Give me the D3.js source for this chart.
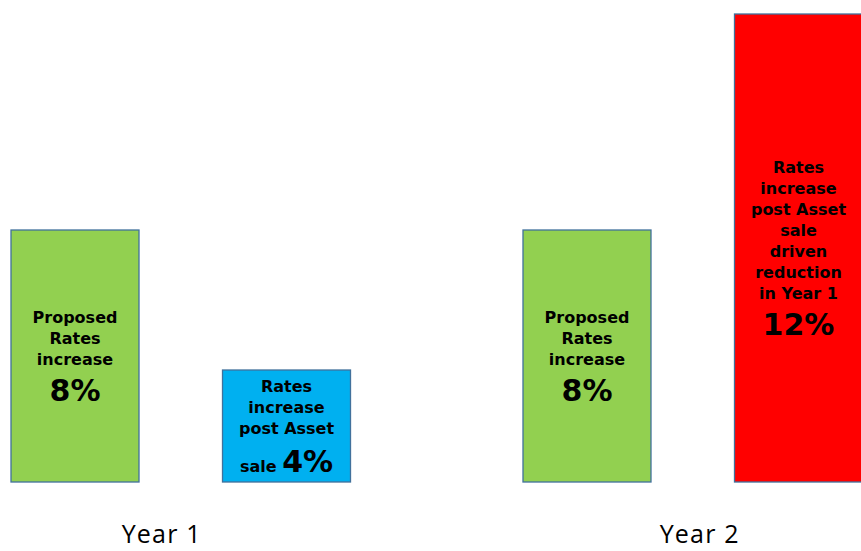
<!DOCTYPE html>
<html><head><meta charset="utf-8">
<script src="https://cdn.jsdelivr.net/npm/d3@7"></script>
<style>html,body{margin:0;padding:0;background:#fff;}svg{display:block;}</style>
</head><body>
<svg id="chart" width="861" height="551"></svg>
<script>
const years = ["Year 1", "Year 2"];
const seriesKeys = ["proposed", "post"];
const proposedValues = [8, 8];
const postValues = [4, 12];
const colors = { "Year 1|proposed": "#92D050", "Year 1|post": "#00B0F0", "Year 2|proposed": "#92D050", "Year 2|post": "#FF0000" };
const labelLines = {
  "Year 1|proposed": ["Proposed", "Rates", "increase"],
  "Year 1|post": ["Rates", "increase", "post Asset", "sale"],
  "Year 2|proposed": ["Proposed", "Rates", "increase"],
  "Year 2|post": ["Rates", "increase", "post Asset", "sale", "driven", "reduction", "in Year 1"]
};

const bars = [];
years.forEach((y, i) => {
  bars.push({ year: y, key: "proposed", value: proposedValues[i] });
  bars.push({ year: y, key: "post", value: postValues[i] });
});

const svg = d3.select("#chart");
const x0 = d3.scaleBand().domain(years).range([11, 862.5]).paddingInner(0.3369).paddingOuter(0);
const x1 = d3.scaleBand().domain(seriesKeys).range([0, x0.bandwidth()]).paddingInner(0.3948).paddingOuter(0);
// Non-proportional heights as in the original graphic
const y = d3.scaleLinear().domain([0, 4, 8, 12]).range([482, 370, 230, 14]);

const g = svg.append("g");
const bar = g.selectAll("g.bar").data(bars).join("g").attr("class", "bar");
bar.append("rect")
  .attr("x", d => x0(d.year) + x1(d.key))
  .attr("y", d => y(d.value))
  .attr("width", x1.bandwidth())
  .attr("height", d => y(0) - y(d.value))
  .attr("fill", d => colors[d.year + "|" + d.key])
  .attr("stroke", "#41719C")
  .attr("stroke-width", 1.3);

const lineH = 21;
const font = "'DejaVu Sans', Verdana, sans-serif";
bar.each(function(d) {
  const k = d.year + "|" + d.key;
  const lines = labelLines[k];
  const cx = x0(d.year) + x1(d.key) + x1.bandwidth() / 2;
  const cy = (y(d.value) + y(0)) / 2;
  const inline = lines[lines.length - 1] === "sale" && d.year === "Year 1";
  const nText = inline ? lines.length - 1 : lines.length;
  const pctGap = inline ? 37.5 : 35.5;
  const blockH = (nText - 1) * lineH + pctGap + 12;
  const first = cy - blockH / 2 + 12;
  const sel = d3.select(this);
  for (let i = 0; i < nText; i++) {
    sel.append("text").attr("x", cx).attr("y", first + i * lineH)
      .attr("text-anchor", "middle").attr("font-family", font).attr("font-weight", "bold")
      .attr("font-size", 16).attr("fill", "#000").text(lines[i]);
  }
  const pct = d.value + "%";
  const t = sel.append("text").attr("x", cx).attr("y", first + (nText - 1) * lineH + pctGap)
    .attr("text-anchor", "middle").attr("font-family", font).attr("font-weight", "bold").attr("fill", "#000");
  if (inline) {
    t.append("tspan").attr("font-size", 16).text("sale ");
    t.append("tspan").attr("font-size", 30).text(pct);
  } else {
    t.attr("font-size", 30).text(pct);
  }
});

svg.selectAll("text.year").data(years).join("text").attr("class", "year")
  .attr("x", d => x0(d) + x0.bandwidth() / 2 + (d === "Year 1" ? -19 : 7))
  .attr("y", 543)
  .attr("text-anchor", "middle")
  .attr("font-family", "'Open Sans', 'Liberation Sans', sans-serif")
  .attr("letter-spacing", 1.2)
  .attr("font-size", 25).attr("fill", "#000").text(d => d);
</script>
</body></html>
